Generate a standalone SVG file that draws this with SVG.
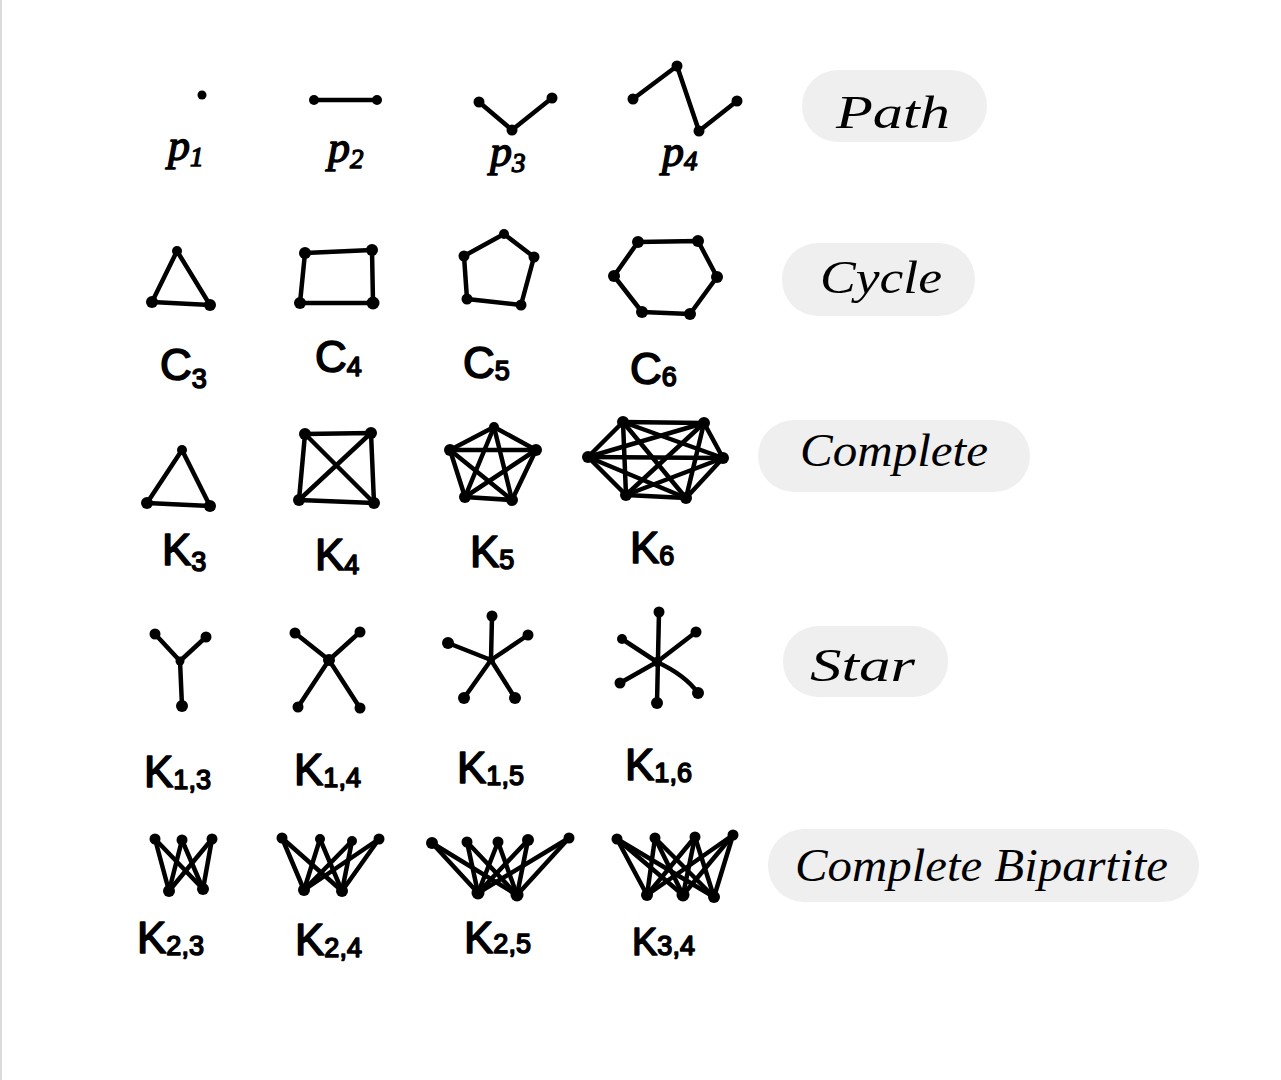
<svg xmlns="http://www.w3.org/2000/svg" width="1281" height="1080" viewBox="0 0 1281 1080">
<style>
.e{stroke:#000;stroke-width:4.5;stroke-linecap:round;stroke-linejoin:round;fill:none}
.v{fill:#000}
.pill{fill:#efefef}
.pt{font-family:"Liberation Serif",serif;font-style:italic;font-size:46px;fill:#000}
.lb{font-family:"Liberation Sans",Arial,sans-serif;font-size:44px;fill:#000;stroke:#000;stroke-width:1.6;stroke-linejoin:round}
.lp{font-family:"Liberation Serif",serif;font-style:italic;font-size:44px;fill:#000;stroke:#000;stroke-width:1.4;stroke-linejoin:round}
.sub{font-size:27px}
</style>
<rect width="1281" height="1080" fill="#fff"/>
<line x1="1" y1="0" x2="1" y2="1080" stroke="#dcdcdc" stroke-width="2"/>

<!-- category pills -->
<g id="pill-path"><rect class="pill" x="802" y="70" width="185" height="72" rx="36"/><text class="pt" x="836" y="128" textLength="114" lengthAdjust="spacingAndGlyphs">Path</text></g>
<g id="pill-cycle"><rect class="pill" x="782" y="243" width="193" height="73" rx="36"/><text class="pt" x="820" y="293" textLength="122" lengthAdjust="spacingAndGlyphs">Cycle</text></g>
<g id="pill-complete"><rect class="pill" x="758" y="420" width="272" height="72" rx="36"/><text class="pt" x="800" y="466" textLength="188" lengthAdjust="spacingAndGlyphs">Complete</text></g>
<g id="pill-star"><rect class="pill" x="783" y="626" width="165" height="71" rx="35"/><text class="pt" x="810" y="681" textLength="105" lengthAdjust="spacingAndGlyphs">Star</text></g>
<g id="pill-bipartite"><rect class="pill" x="768" y="829" width="431" height="73" rx="36"/><text class="pt" x="795" y="881" textLength="373" lengthAdjust="spacingAndGlyphs">Complete Bipartite</text></g>

<!-- connectors (edges) -->
<g id="connectors" class="e">
 <g id="edges-P2"><line x1="314" y1="100" x2="377" y2="100"/></g>
 <g id="edges-P3"><polyline points="479,102 512,130 552,98"/></g>
 <g id="edges-P4"><polyline points="633,99 677,66 699,131 737,101"/></g>

 <g id="edges-C3"><polygon points="177,251 210,305 152,302"/></g>
 <g id="edges-C4"><polygon points="305,253 372,250 373,303 300,303"/></g>
 <g id="edges-C5"><polygon points="504,234 534,257 521,305 467,299 464,256"/></g>
 <g id="edges-C6"><polygon points="638,242 698,241 717,277 690,314 642,312 614,276"/></g>

 <g id="edges-K3"><polygon points="182,450 210,506 147,503"/></g>
 <g id="edges-K4"><polygon points="305,434 371,433 374,503 299,500"/><line x1="305" y1="434" x2="374" y2="503"/><line x1="371" y1="433" x2="299" y2="500"/></g>
 <g id="edges-K5">
  <polygon points="494,427 536,450 512,500 465,497 450,450"/>
  <line x1="494" y1="427" x2="512" y2="500"/><line x1="494" y1="427" x2="465" y2="497"/>
  <line x1="536" y1="450" x2="465" y2="497"/><line x1="536" y1="450" x2="450" y2="450"/>
  <line x1="512" y1="500" x2="450" y2="450"/>
 </g>
 <g id="edges-K6">
  <polygon points="623,422 704,423 723,458 686,498 626,495 588,457"/>
  <line x1="623" y1="422" x2="723" y2="458"/><line x1="623" y1="422" x2="686" y2="498"/><line x1="623" y1="422" x2="626" y2="495"/>
  <line x1="704" y1="423" x2="686" y2="498"/><line x1="704" y1="423" x2="626" y2="495"/><line x1="704" y1="423" x2="588" y2="457"/>
  <line x1="723" y1="458" x2="626" y2="495"/><line x1="723" y1="458" x2="588" y2="457"/>
  <line x1="686" y1="498" x2="588" y2="457"/>
 </g>

 <g id="edges-K13"><line x1="180" y1="661" x2="155" y2="634"/><line x1="180" y1="661" x2="206" y2="637"/><line x1="180" y1="661" x2="182" y2="706"/></g>
 <g id="edges-K14"><line x1="329" y1="660" x2="295" y2="633"/><line x1="329" y1="660" x2="360" y2="632"/><line x1="329" y1="660" x2="298" y2="707"/><line x1="329" y1="660" x2="360" y2="708"/></g>
 <g id="edges-K15"><line x1="491" y1="660" x2="492" y2="616"/><line x1="491" y1="660" x2="528" y2="635"/><line x1="491" y1="660" x2="448" y2="643"/><line x1="491" y1="660" x2="464" y2="698"/><line x1="491" y1="660" x2="515" y2="698"/></g>
 <g id="edges-K16"><line x1="659" y1="612" x2="657" y2="703"/><line x1="657" y1="662" x2="622" y2="639"/><line x1="657" y1="662" x2="696" y2="632"/><line x1="657" y1="662" x2="620" y2="683"/><path d="M657,662 Q685,675 698,693"/></g>

 <g id="edges-K23">
  <line x1="155" y1="839" x2="169" y2="891"/><line x1="182" y1="840" x2="169" y2="891"/><line x1="212" y1="839" x2="169" y2="891"/>
  <line x1="155" y1="839" x2="203" y2="889"/><line x1="182" y1="840" x2="203" y2="889"/><line x1="212" y1="839" x2="203" y2="889"/>
 </g>
 <g id="edges-K24">
  <line x1="282" y1="838" x2="304" y2="890"/><line x1="320" y1="839" x2="304" y2="890"/><line x1="352" y1="841" x2="304" y2="890"/><line x1="379" y1="839" x2="304" y2="890"/>
  <line x1="282" y1="838" x2="342" y2="891"/><line x1="320" y1="839" x2="342" y2="891"/><line x1="352" y1="841" x2="342" y2="891"/><line x1="379" y1="839" x2="342" y2="891"/>
 </g>
 <g id="edges-K25">
  <line x1="432" y1="843" x2="478" y2="893"/><line x1="467" y1="842" x2="478" y2="893"/><line x1="498" y1="842" x2="478" y2="893"/><line x1="528" y1="840" x2="478" y2="893"/><line x1="569" y1="838" x2="478" y2="893"/>
  <line x1="432" y1="843" x2="517" y2="895"/><line x1="467" y1="842" x2="517" y2="895"/><line x1="498" y1="842" x2="517" y2="895"/><line x1="528" y1="840" x2="517" y2="895"/><line x1="569" y1="838" x2="517" y2="895"/>
 </g>
 <g id="edges-K34">
  <line x1="617" y1="839" x2="647" y2="895"/><line x1="655" y1="838" x2="647" y2="895"/><line x1="695" y1="837" x2="647" y2="895"/><line x1="733" y1="835" x2="647" y2="895"/>
  <line x1="617" y1="839" x2="683" y2="895"/><line x1="655" y1="838" x2="683" y2="895"/><line x1="695" y1="837" x2="683" y2="895"/><line x1="733" y1="835" x2="683" y2="895"/>
  <line x1="617" y1="839" x2="714" y2="897"/><line x1="655" y1="838" x2="714" y2="897"/><line x1="695" y1="837" x2="714" y2="897"/><line x1="733" y1="835" x2="714" y2="897"/>
 </g>
</g>

<!-- vertices -->
<g id="node-P1" class="v"><circle cx="202" cy="95" r="4.5"/></g>
<g id="node-P2" class="v"><circle cx="314" cy="100" r="5"/><circle cx="377" cy="100" r="5"/></g>
<g id="node-P3" class="v"><circle cx="479" cy="102" r="5.5"/><circle cx="512" cy="130" r="5.5"/><circle cx="552" cy="98" r="5.5"/></g>
<g id="node-P4" class="v"><circle cx="633" cy="99" r="5.5"/><circle cx="677" cy="66" r="5.5"/><circle cx="699" cy="131" r="5.5"/><circle cx="737" cy="101" r="5.5"/></g>

<g id="node-C3" class="v"><circle cx="177" cy="251" r="5"/><circle cx="210" cy="305" r="6"/><circle cx="152" cy="302" r="6"/></g>
<g id="node-C4" class="v"><circle cx="305" cy="253" r="6"/><circle cx="372" cy="250" r="6"/><circle cx="373" cy="303" r="6.5"/><circle cx="300" cy="303" r="6"/></g>
<g id="node-C5" class="v"><circle cx="504" cy="234" r="5"/><circle cx="534" cy="257" r="5.5"/><circle cx="521" cy="305" r="5.5"/><circle cx="467" cy="299" r="5.5"/><circle cx="464" cy="256" r="5.5"/></g>
<g id="node-C6" class="v"><circle cx="638" cy="242" r="6"/><circle cx="698" cy="241" r="6"/><circle cx="717" cy="277" r="6"/><circle cx="690" cy="314" r="6"/><circle cx="642" cy="312" r="6"/><circle cx="614" cy="276" r="6"/></g>

<g id="node-K3" class="v"><circle cx="182" cy="450" r="5"/><circle cx="210" cy="506" r="6"/><circle cx="147" cy="503" r="6"/></g>
<g id="node-K4" class="v"><circle cx="305" cy="434" r="6"/><circle cx="371" cy="433" r="6"/><circle cx="374" cy="503" r="6"/><circle cx="299" cy="500" r="6"/></g>
<g id="node-K5" class="v"><circle cx="494" cy="427" r="5"/><circle cx="536" cy="450" r="6"/><circle cx="512" cy="500" r="6"/><circle cx="465" cy="497" r="6"/><circle cx="450" cy="450" r="6"/></g>
<g id="node-K6" class="v"><circle cx="623" cy="422" r="6"/><circle cx="704" cy="423" r="6"/><circle cx="723" cy="458" r="6"/><circle cx="686" cy="498" r="6"/><circle cx="626" cy="495" r="6"/><circle cx="588" cy="457" r="6"/></g>

<g id="node-K13" class="v"><circle cx="180" cy="661" r="4.5"/><circle cx="155" cy="634" r="5.5"/><circle cx="206" cy="637" r="5.5"/><circle cx="182" cy="706" r="6"/></g>
<g id="node-K14" class="v"><circle cx="329" cy="660" r="6"/><circle cx="295" cy="633" r="5.5"/><circle cx="360" cy="632" r="5.5"/><circle cx="298" cy="707" r="5.5"/><circle cx="360" cy="708" r="5.5"/></g>
<g id="node-K15" class="v"><circle cx="491" cy="660" r="4"/><circle cx="492" cy="616" r="5.5"/><circle cx="528" cy="635" r="5.5"/><circle cx="448" cy="643" r="6"/><circle cx="464" cy="698" r="6"/><circle cx="515" cy="698" r="6"/></g>
<g id="node-K16" class="v"><circle cx="657" cy="662" r="5"/><circle cx="659" cy="612" r="5.5"/><circle cx="657" cy="703" r="6"/><circle cx="622" cy="639" r="5"/><circle cx="696" cy="632" r="5.5"/><circle cx="620" cy="683" r="5.5"/><circle cx="698" cy="693" r="6"/></g>

<g id="node-K23" class="v"><circle cx="155" cy="839" r="5.5"/><circle cx="182" cy="840" r="5.5"/><circle cx="212" cy="839" r="5.5"/><circle cx="169" cy="891" r="6"/><circle cx="203" cy="889" r="6"/></g>
<g id="node-K24" class="v"><circle cx="282" cy="838" r="5.5"/><circle cx="320" cy="839" r="5"/><circle cx="352" cy="841" r="5"/><circle cx="379" cy="839" r="5.5"/><circle cx="304" cy="890" r="6"/><circle cx="342" cy="891" r="6"/></g>
<g id="node-K25" class="v"><circle cx="432" cy="843" r="6"/><circle cx="467" cy="842" r="5.5"/><circle cx="498" cy="842" r="5.5"/><circle cx="528" cy="840" r="6"/><circle cx="569" cy="838" r="5.5"/><circle cx="478" cy="893" r="6.5"/><circle cx="517" cy="895" r="6.5"/></g>
<g id="node-K34" class="v"><circle cx="617" cy="839" r="5.5"/><circle cx="655" cy="838" r="5.5"/><circle cx="695" cy="837" r="5.5"/><circle cx="733" cy="835" r="5.5"/><circle cx="647" cy="895" r="6"/><circle cx="683" cy="895" r="6.5"/><circle cx="714" cy="897" r="6"/></g>

<!-- labels -->
<g id="labels">
 <text class="lp" x="168" y="160">p<tspan class="sub" dy="6">1</tspan></text>
 <text class="lp" x="328" y="162">p<tspan class="sub" dy="6">2</tspan></text>
 <text class="lp" x="490" y="166">p<tspan class="sub" dy="6">3</tspan></text>
 <text class="lp" x="662" y="166">p<tspan class="sub" dy="4">4</tspan></text>

 <text class="lb" x="160" y="380">C<tspan class="sub" dy="8">3</tspan></text>
 <text class="lb" x="315" y="372">C<tspan class="sub" dy="4">4</tspan></text>
 <text class="lb" x="463" y="378">C<tspan class="sub" dy="2">5</tspan></text>
 <text class="lb" x="630" y="384">C<tspan class="sub" dy="2">6</tspan></text>

 <text class="lb" x="162" y="565">K<tspan class="sub" dy="6">3</tspan></text>
 <text class="lb" x="315" y="570">K<tspan class="sub" dy="4">4</tspan></text>
 <text class="lb" x="470" y="567">K<tspan class="sub" dy="2">5</tspan></text>
 <text class="lb" x="630" y="563">K<tspan class="sub" dy="2">6</tspan></text>

 <text class="lb" x="144" y="787">K<tspan class="sub" dy="2">1,3</tspan></text>
 <text class="lb" x="294" y="785">K<tspan class="sub" dy="2">1,4</tspan></text>
 <text class="lb" x="457" y="783">K<tspan class="sub" dy="2">1,5</tspan></text>
 <text class="lb" x="625" y="780">K<tspan class="sub" dy="2">1,6</tspan></text>

 <text class="lb" x="137" y="953">K<tspan class="sub" dy="2">2,3</tspan></text>
 <text class="lb" x="295" y="955">K<tspan class="sub" dy="2">2,4</tspan></text>
 <text class="lb" x="464" y="953">K<tspan class="sub" dy="0">2,5</tspan></text>
 <text class="lb" x="632" y="955" style="font-size:38px">K<tspan class="sub" dy="0">3,4</tspan></text>
</g>
</svg>
